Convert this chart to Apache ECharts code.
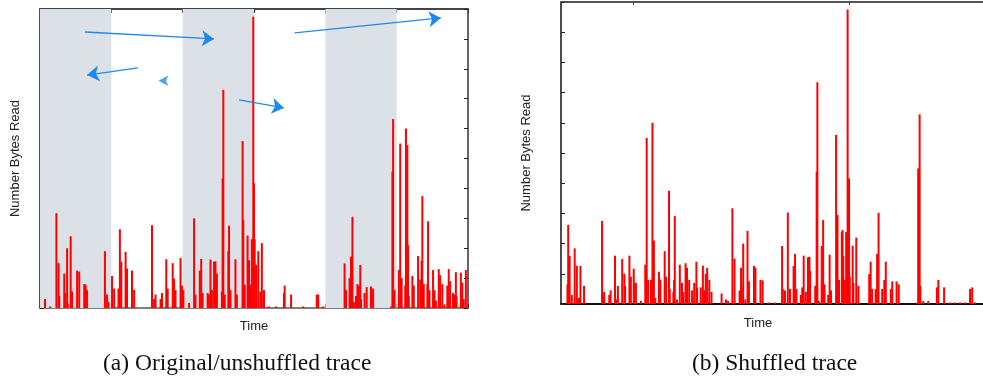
<!DOCTYPE html>
<html>
<head>
<meta charset="utf-8">
<script src="https://cdn.jsdelivr.net/npm/echarts@6/dist/echarts.min.js"></script>
<style>
  html, body { margin: 0; padding: 0; background: #fff; }
  #chart { width: 983px; height: 379px; }
</style>
</head>
<body>
<div id="chart"></div>
<script>
// (a) original trace: time -> bytes read
const origTime = [7,14,23,26,27,34,35,38,39,43,45,52,55,62,64,66,91,94,96,101,
  104,110,112,114,120,122,129,132,157,160,162,169,171,177,179,186,188,190,197,199,
  201,209,216,218,224,226,228,235,237,239,241,244,246,248,255,256,257,259,264,265,
  267,274,276,284,285,287,291,293,295,297,299,300,301,303,306,309,311,314,321,331,
  342,343,352,369,388,390,397,427,429,434,436,438,440,443,445,447,449,450,455,458,
  464,465,467,492,494,495,497,503,505,507,512,513,515,516,517,522,524,530,533,535,
  536,538,543,544,546,551,553,555,559,561,564,567,571,573,575,579,581,583,584,590,
  592,594,597];
const origBytes = [0.3,0.05,3.17,1.5,0.4,1.15,0.5,2.0,0.15,2.4,0.55,1.25,1.22,0.8,0.78,0.6,1.9,0.45,0.2,1.07,
  0.65,0.65,2.63,1.55,1.88,1.32,1.25,0.6,2.77,0.3,0.45,0.3,0.5,1.63,0.65,1.5,0.98,0.6,1.67,0.75,
  0.6,0.17,3.0,0.45,1.25,1.64,0.5,0.5,0.45,1.62,0.6,1.55,1.56,1.15,0.55,4.33,7.3,0.45,1.9,2.75,
  0.6,1.63,0.45,5.58,2.94,0.78,2.42,1.6,0.78,2.3,9.74,4.17,2.3,1.45,1.9,0.55,2.17,0.6,0.05,0.05,
  0.5,0.75,0.45,0.05,0.45,0.45,0.05,1.49,0.6,1.0,1.72,3.05,0.2,0.4,0.8,0.75,1.44,0.3,0.5,0.7,
  0.72,0.4,0.65,0.05,4.56,6.32,0.6,1.27,5.5,1.0,0.75,6.0,5.45,2.1,0.4,1.07,0.75,1.74,0.95,1.58,
  3.74,0.8,0.8,2.9,0.6,1.27,0.6,0.25,1.3,1.1,0.8,0.12,0.75,1.3,0.9,0.5,0.45,1.2,0.4,1.18,
  0.85,0.3,1.27];

// (b) shuffled trace
const shufTime = [9,10,12,15,19,22,25,27,32,57,59,60,67,69,75,77,79,85,88,89,
  95,97,101,103,104,111,117,119,121,125,127,129,131,136,138,144,146,150,151,156,
  157,158,161,165,168,170,173,175,178,182,185,188,189,194,197,199,201,203,206,209,
  223,229,232,238,241,248,250,251,253,256,259,261,268,270,277,280,288,297,307,308,
  311,315,318,323,325,327,333,335,337,340,343,345,346,353,355,356,358,362,364,366,
  371,373,375,382,384,386,390,391,392,394,396,398,400,401,405,406,410,413,428,430,
  432,437,439,441,446,449,451,458,460,466,469,495,496,498,499,503,510,522,524,532,
  540,547,554,561,568,571,575];
const shufBytes = [0.65,2.62,1.59,0.3,1.84,1.27,0.2,1.26,0.6,2.75,0.3,0.4,0.3,0.45,1.6,0.15,0.6,1.49,1.0,0.6,
  1.6,0.9,1.17,0.7,0.7,0.1,1.3,5.5,0.8,0.8,6.0,2.1,0.2,1.07,0.8,1.75,0.9,3.75,0.5,0.4,
  0.8,2.91,0.15,1.3,0.7,0.4,1.35,1.2,0.8,0.45,0.7,1.4,0.55,0.55,1.27,0.45,1.0,1.2,0.8,0.4,
  0.35,0.15,0.1,3.17,1.5,0.45,1.2,0.55,2.0,0.15,2.42,0.75,1.26,1.2,0.8,0.78,0.05,0.05,1.92,0.5,
  0.45,3.03,0.5,1.26,1.66,0.5,0.3,0.55,1.6,0.4,1.55,1.56,1.1,0.6,4.38,7.34,0.1,1.92,2.78,0.65,
  0.3,1.63,0.45,5.6,2.95,0.8,2.38,2.45,1.59,0.8,2.38,9.75,4.16,0.9,1.93,0.7,2.2,0.6,0.99,1.4,
  0.5,0.5,1.66,3.02,0.5,0.8,1.4,0.5,0.75,0.75,0.65,0.05,4.49,6.28,0.6,0.1,0.1,0.55,0.8,0.55,
  0.05,0.05,0.05,0.05,0.5,0.55,0.05];

// shaded periods in (a)
const shadedBands = [[0, 100], [200, 300], [400, 500]];

// annotation arrows in (a), [from, to] in time / bytes units
const arrowPaths = [
  [[63, 9.23], [244, 9.0]],
  [[137, 8.03], [66, 7.79]],
  [[279, 6.96], [342, 6.69]],
  [[357, 9.2], [562, 9.7]]
];
const loneArrowHead = [[166, 7.6]];

const pairs = (xs, ys) => xs.map((x, i) => [x, ys[i]]);

const chart = echarts.init(document.getElementById('chart'));

const axisText = { fontFamily: 'Liberation Sans', fontSize: 13, color: '#222' };
const captionText = { fontFamily: 'Liberation Serif', fontSize: 23.5, fontWeight: 'normal', color: '#111' };
const boxLine = (color, width) => ({ show: true, onZero: false, lineStyle: { color, width } });

chart.setOption({
  animation: false,
  title: [
    { text: '(a) Original/unshuffled trace', left: 98, top: 347, textStyle: captionText },
    { text: '(b) Shuffled trace', left: 687, top: 347, textStyle: captionText }
  ],
  grid: [
    { left: 40, top: 9, width: 428, height: 299 },
    { left: 561, top: 2, width: 422, height: 302 }
  ],
  xAxis: [
    {
      gridIndex: 0, type: 'value', min: 0, max: 600, interval: 100, position: 'bottom',
      name: 'Time', nameLocation: 'middle', nameGap: 12, nameTextStyle: axisText,
      axisLine: boxLine('#555', 1.5),
      axisTick: { show: true, inside: true, length: 4, lineStyle: { color: '#333' } },
      axisLabel: { show: false }, splitLine: { show: false }
    },
    {
      gridIndex: 0, type: 'value', min: 0, max: 600, interval: 100, position: 'top',
      axisLine: boxLine('#444', 2),
      axisTick: { show: true, inside: true, length: 4, lineStyle: { color: '#333' } },
      axisLabel: { show: false }, splitLine: { show: false }
    },
    {
      gridIndex: 1, type: 'value', min: 0, max: 586, interval: 100, position: 'bottom',
      name: 'Time', nameLocation: 'middle', nameGap: 13,
      nameTextStyle: Object.assign({ padding: [0, 28, 0, 0] }, axisText),
      axisLine: boxLine('#111', 2),
      axisTick: { show: false }, axisLabel: { show: false }, splitLine: { show: false }
    },
    {
      gridIndex: 1, type: 'value', min: 0, max: 586, interval: 100, position: 'top',
      axisLine: boxLine('#555', 2),
      axisTick: { show: true, inside: true, length: 3, customValues: [100, 400], lineStyle: { color: '#333' } },
      axisLabel: { show: false }, splitLine: { show: false }
    }
  ],
  yAxis: [
    {
      gridIndex: 0, type: 'value', min: 0, max: 10, interval: 1, position: 'left',
      name: 'Number Bytes Read', nameLocation: 'middle', nameGap: 18, nameTextStyle: axisText,
      axisLine: boxLine('#111', 1.5),
      axisTick: { show: true, inside: true, length: 4, lineStyle: { color: '#222' } },
      axisLabel: { show: false }, splitLine: { show: false }
    },
    {
      gridIndex: 0, type: 'value', min: 0, max: 10, interval: 1, position: 'right',
      axisLine: boxLine('#333', 1.5),
      axisTick: { show: true, inside: true, length: 4, lineStyle: { color: '#222' } },
      axisLabel: { show: false }, splitLine: { show: false }
    },
    {
      gridIndex: 1, type: 'value', min: 0, max: 10, interval: 1, position: 'left',
      name: 'Number Bytes Read', nameLocation: 'middle', nameGap: 28, nameTextStyle: axisText,
      axisLine: boxLine('#111', 1.5),
      axisTick: { show: true, inside: true, length: 4, lineStyle: { color: '#222' } },
      axisLabel: { show: false }, splitLine: { show: false }
    }
  ],
  series: [
    {
      name: 'original',
      type: 'bar',
      xAxisIndex: 0, yAxisIndex: 0,
      barWidth: 2,
      itemStyle: { color: '#ff0000' },
      data: pairs(origTime, origBytes),
      markArea: {
        silent: true,
        itemStyle: { color: '#dce1e8' },
        data: shadedBands.map(([a, b]) => [{ xAxis: a }, { xAxis: b }])
      }
    },
    {
      name: 'shuffled',
      type: 'bar',
      xAxisIndex: 2, yAxisIndex: 2,
      barWidth: 2,
      itemStyle: { color: '#ff0000' },
      data: pairs(shufTime, shufBytes)
    },
    {
      name: 'arrows',
      type: 'lines',
      coordinateSystem: 'cartesian2d',
      xAxisIndex: 0, yAxisIndex: 0,
      symbol: ['none', 'arrow'],
      symbolSize: 12,
      lineStyle: { color: '#1f88ee', width: 1.3, opacity: 1, curveness: 0 },
      z: 5,
      data: arrowPaths.map(p => ({ coords: p }))
    },
    {
      name: 'arrowhead',
      type: 'scatter',
      xAxisIndex: 0, yAxisIndex: 0,
      symbol: 'arrow',
      symbolSize: [8, 10],
      symbolRotate: 90,
      itemStyle: { color: '#1f88ee' },
      z: 5,
      data: loneArrowHead
    }
  ]
});
</script>
</body>
</html>
